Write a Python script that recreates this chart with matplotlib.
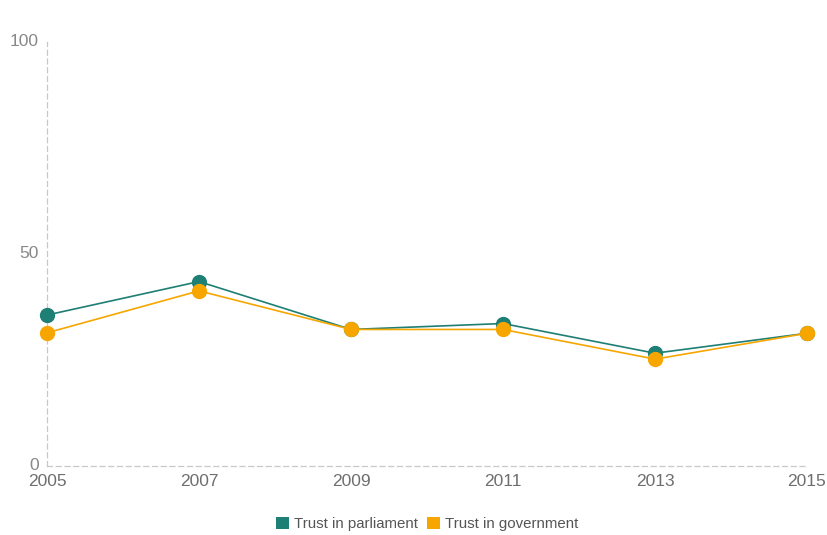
import matplotlib
matplotlib.use("Agg")
import matplotlib.pyplot as plt
from matplotlib.patches import Patch

# Survey results, percent
years = [2005, 2007, 2009, 2011, 2013, 2015]
trust_parliament = [35.6, 43.5, 32.2, 33.6, 26.6, 31.3]
trust_government = [31.4, 41.3, 32.2, 32.2, 25.2, 31.3]
y_ticks = [0, 50, 100]

teal = "#1e7f74"
orange = "#f7a600"

plt.rcParams['font.family'] = ['Liberation Sans', 'DejaVu Sans']

fig = plt.figure(figsize=(8.27, 5.35), dpi=100)
ax = fig.add_axes([0.0568, 0.129, 0.919, 0.7925])

ax.plot(years, trust_parliament, color=teal, lw=1.2, marker='o', ms=10,
        mec=teal, mfc=teal, zorder=3, clip_on=False)
ax.plot(years, trust_government, color=orange, lw=1.2, marker='o', ms=10,
        mec=orange, mfc=orange, zorder=4, clip_on=False)

ax.set_xlim(years[0], years[-1])
ax.set_ylim(0, 100)
ax.set_xticks(years)
ax.set_yticks(y_ticks)

for side in ['top', 'right']:
    ax.spines[side].set_visible(False)
for side in ['left', 'bottom']:
    ax.spines[side].set_color('#c8c8c8')
    ax.spines[side].set_linestyle((0, (4, 3)))
    ax.spines[side].set_linewidth(0.9)

ax.tick_params(axis='both', length=0)
ax.tick_params(axis='x', labelsize=12.5, labelcolor='#6e6e6e', pad=6)
ax.tick_params(axis='y', labelsize=12.5, labelcolor='#888888', pad=6)
for lbl in ax.get_yticklabels():
    lbl.set_verticalalignment('center')

handles = [Patch(facecolor=teal, label='Trust in parliament'),
           Patch(facecolor=orange, label='Trust in government')]
fig.legend(handles=handles, loc='center', bbox_to_anchor=(0.517, 0.0206),
           ncol=2, frameon=False, fontsize=10.8, handlelength=0.85,
           handleheight=0.85, handletextpad=0.35, columnspacing=0.6,
           labelcolor='#555555')

fig.savefig("out.png", dpi=100, facecolor='white')
